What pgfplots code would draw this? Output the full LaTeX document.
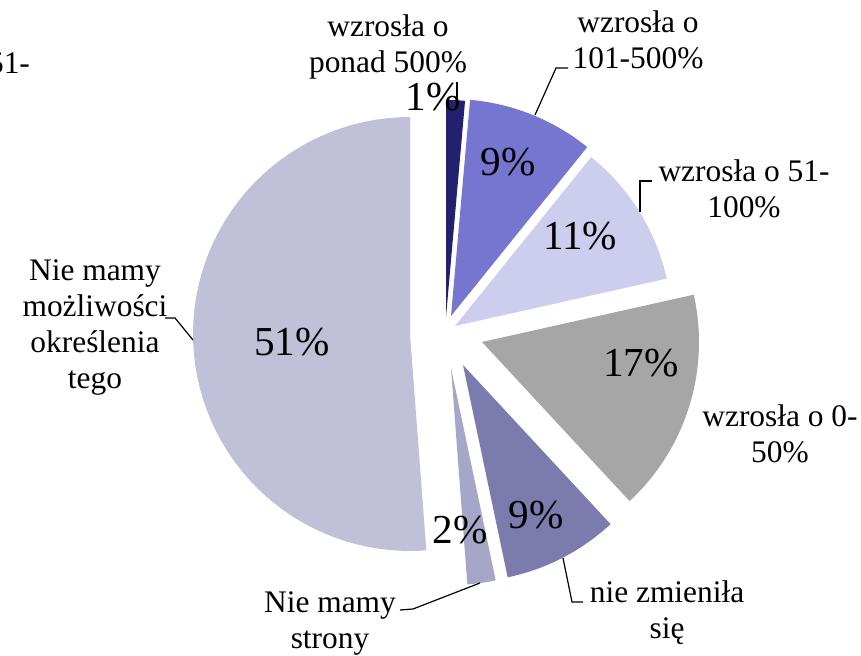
\documentclass[border=0pt]{standalone}
\usepackage{pgfplots}
\pgfplotsset{compat=1.18}
\usepackage{fontspec}
\setmainfont{Liberation Serif}
\definecolor{cA}{RGB}{35,33,110}
\definecolor{cB}{RGB}{118,118,208}
\definecolor{cC}{RGB}{205,205,238}
\definecolor{cD}{RGB}{166,166,166}
\definecolor{cE}{RGB}{123,123,174}
\definecolor{cF}{RGB}{166,166,200}
\definecolor{cG}{RGB}{192,192,216}
\newcommand\R{217}
% #1 cumulative start (%), #2 value (%), #3 #4 apex (px), #5 colour
\newcommand\slice[5]{\addplot[fill=#5, draw=none, samples at={-1,0,1,...,60}, variable=\t]
 ({#3 + (\t>=0)*\R*sin(3.6*(#1 + #2*\t/60))}, {#4 - (\t>=0)*\R*cos(3.6*(#1 + #2*\t/60))});}
\newcommand\lab{\fontsize{15.7}{18}\selectfont}
\newcommand\pct{\fontsize{20.6}{23}\selectfont}
\begin{document}
\begin{tikzpicture}
\begin{axis}[name=ax, hide axis, scale only axis, width=430.5pt, height=328pt,
  xmin=0, xmax=861, ymin=0, ymax=656, y dir=reverse, clip=true]
\slice{0}{1.4}{446}{317}{cA}
\slice{1.4}{9.4}{451}{316}{cB}
\slice{10.8}{10.7}{455}{326}{cC}
\slice{21.5}{16.6}{482}{342}{cD}
\slice{38.1}{8.6}{463}{365}{cE}
\slice{46.7}{2.1}{451}{368}{cF}
\slice{48.8}{51.2}{410}{334}{cG}
% leader lines
\addplot[black, line width=0.6pt] coordinates {(457,82) (457,99)};
\addplot[black, line width=0.6pt] coordinates {(568,68) (556,68) (535,115)};
\addplot[black, line width=0.6pt] coordinates {(652,181) (640,181) (640,212)};
\addplot[black, line width=0.6pt] coordinates {(563,558) (572,602) (583,602)};
\addplot[black, line width=0.6pt] coordinates {(400,610) (413,609) (480,583)};
\addplot[black, line width=0.6pt] coordinates {(165,318) (175,318) (193,340)};
% percentage labels
\node[font=\pct] at (axis cs:433,97) {1\%};
\node[font=\pct] at (axis cs:508,162) {9\%};
\node[font=\pct] at (axis cs:580,236) {11\%};
\node[font=\pct] at (axis cs:641,363) {17\%};
\node[font=\pct] at (axis cs:536,515) {9\%};
\node[font=\pct] at (axis cs:460,530) {2\%};
\node[font=\pct] at (axis cs:292,342) {51\%};
% category labels
\node[font=\lab, align=center] at (axis cs:388,47) {wzrosła o\\ponad 500\%};
\node[font=\lab, align=center] at (axis cs:638,40) {wzrosła o\\101-500\%};
\node[font=\lab, align=center] at (axis cs:744,189) {wzrosła o 51-\\100\%};
\node[font=\lab, align=center] at (axis cs:780,434) {wzrosła o 0-\\50\%};
\node[font=\lab, align=center] at (axis cs:667,613) {nie zmieniła\\się};
\node[font=\lab, align=center] at (axis cs:330,623) {Nie mamy\\strony};
\node[font=\lab, align=center] at (axis cs:95,327) {Nie mamy\\możliwości\\określenia\\tego};
\node[font=\lab, anchor=east] at (axis cs:37,63) {wzrosła o 51-};
\end{axis}
\pgfresetboundingbox
\path (ax.south west) rectangle (ax.north east);
\end{tikzpicture}
\end{document}
